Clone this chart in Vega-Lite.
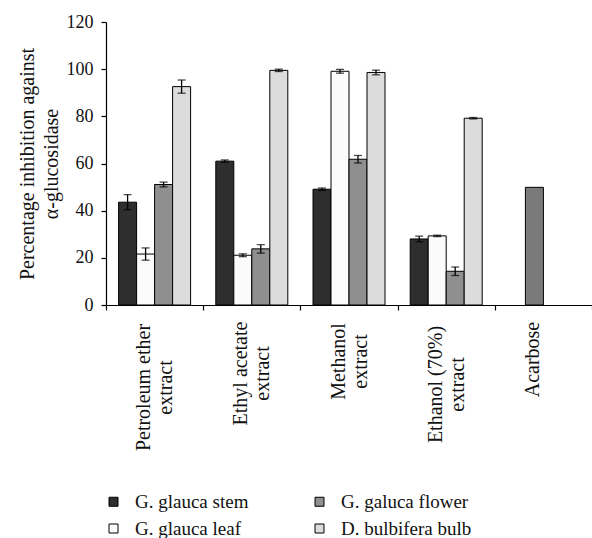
{
  "$schema": "https://vega.github.io/schema/vega-lite/v6.json",
  "autosize": {"type": "none"},
  "width": 486,
  "height": 283,
  "padding": {"left": 106, "top": 22, "right": 0, "bottom": 233},
  "background": "white",
  "config": {
    "view": {"stroke": null},
    "font": "Liberation Serif",
    "axis": {"labelFont": "Liberation Serif", "titleFont": "Liberation Serif", "labelColor": "#111", "titleColor": "#111", "domainColor": "#000", "tickColor": "#000", "grid": false}
  },
  "data": {
    "values": [
      {"group": "Petroleum ether|extract", "series": "G. glauca stem", "slot": "1", "value": 43.6, "lo": 40.4, "hi": 46.8},
      {"group": "Petroleum ether|extract", "series": "G. glauca leaf", "slot": "2", "value": 21.6, "lo": 19.0, "hi": 24.2},
      {"group": "Petroleum ether|extract", "series": "G. galuca flower", "slot": "3", "value": 51.1, "lo": 50.1, "hi": 52.1},
      {"group": "Petroleum ether|extract", "series": "D. bulbifera bulb", "slot": "4", "value": 92.6, "lo": 89.8, "hi": 95.4},
      {"group": "Ethyl acetate|extract", "series": "G. glauca stem", "slot": "1", "value": 61.0, "lo": 60.5, "hi": 61.5},
      {"group": "Ethyl acetate|extract", "series": "G. glauca leaf", "slot": "2", "value": 21.1, "lo": 20.5, "hi": 21.7},
      {"group": "Ethyl acetate|extract", "series": "G. galuca flower", "slot": "3", "value": 23.8, "lo": 22.0, "hi": 25.6},
      {"group": "Ethyl acetate|extract", "series": "D. bulbifera bulb", "slot": "4", "value": 99.5, "lo": 99.0, "hi": 100.0},
      {"group": "Methanol|extract", "series": "G. glauca stem", "slot": "1", "value": 49.1, "lo": 48.6, "hi": 49.6},
      {"group": "Methanol|extract", "series": "G. glauca leaf", "slot": "2", "value": 99.1, "lo": 98.3, "hi": 99.9},
      {"group": "Methanol|extract", "series": "G. galuca flower", "slot": "3", "value": 61.8, "lo": 60.2, "hi": 63.4},
      {"group": "Methanol|extract", "series": "D. bulbifera bulb", "slot": "4", "value": 98.6, "lo": 97.6, "hi": 99.6},
      {"group": "Ethanol (70%)|extract", "series": "G. glauca stem", "slot": "1", "value": 28.0, "lo": 26.8, "hi": 29.2},
      {"group": "Ethanol (70%)|extract", "series": "G. glauca leaf", "slot": "2", "value": 29.3, "lo": 29.0, "hi": 29.6},
      {"group": "Ethanol (70%)|extract", "series": "G. galuca flower", "slot": "3", "value": 14.3, "lo": 12.5, "hi": 16.1},
      {"group": "Ethanol (70%)|extract", "series": "D. bulbifera bulb", "slot": "4", "value": 79.2, "lo": 78.9, "hi": 79.5},
      {"group": "Acarbose", "series": "Acarbose", "slot": "2", "value": 49.9, "lo": null, "hi": null}
    ]
  },
  "encoding": {
    "x": {
      "field": "group", "type": "nominal", "sort": null,
      "scale": {"paddingInner": 0, "paddingOuter": 0},
      "axis": {
        "title": null, "labelAngle": 270, "labelFontSize": 20, "labelAlign": "center",
        "labelPadding": {"condition": [
          {"test": "indexof(datum.label, 'Petroleum') >= 0", "value": 77},
          {"test": "indexof(datum.label, 'Ethyl') >= 0", "value": 63},
          {"test": "indexof(datum.label, 'Methanol') >= 0", "value": 51},
          {"test": "indexof(datum.label, 'Ethanol') >= 0", "value": 74}
        ], "value": 49},
        "labelOffset": -11,
        "labelExpr": "split(datum.label, '|')", "labelLineHeight": 22,
        "tickBand": "extent", "tickSize": 5, "domainWidth": 1.2, "tickWidth": 1.2
      }
    },
    "xOffset": {"field": "slot", "type": "nominal", "sort": ["1", "2", "3", "4"], "scale": {"paddingInner": 0, "paddingOuter": 0.7}}
  },
  "layer": [
    {
      "mark": {"type": "bar", "stroke": "#000", "strokeWidth": 1},
      "encoding": {
        "y": {
          "field": "value", "type": "quantitative",
          "scale": {"domain": [0, 120]},
          "axis": {
            "title": ["Percentage inhibition against", "α-glucosidase"],
            "titleFontSize": 20, "titleFontWeight": "normal", "titleLineHeight": 24, "titlePadding": 5,
            "values": [0, 20, 40, 60, 80, 100, 120], "labelFontSize": 18, "labelPadding": 8,
            "tickSize": 5, "domainWidth": 1.2, "tickWidth": 1.2
          }
        },
        "color": {
          "field": "series", "type": "nominal",
          "scale": {
            "domain": ["G. glauca stem", "G. glauca leaf", "G. galuca flower", "D. bulbifera bulb", "Acarbose"],
            "range": ["#2e2e2e", "#fbfbfb", "#8f8f8f", "#dcdcdc", "#7a7a7a"]
          },
          "legend": {
            "title": null,
            "values": ["G. glauca stem", "G. glauca leaf", "G. galuca flower", "D. bulbifera bulb"],
            "orient": "none", "legendX": -2, "legendY": 470, "columns": 2, "columnPadding": 61, "rowPadding": 7,
            "symbolType": "square", "symbolSize": 81, "symbolStrokeColor": "#000", "symbolStrokeWidth": 1,
            "labelFont": "Liberation Serif", "labelFontSize": 19, "labelColor": "#111", "labelOffset": 12
          }
        }
      }
    },
    {
      "mark": {"type": "rule", "color": "#000", "strokeWidth": 1.3},
      "encoding": {"y": {"field": "lo", "type": "quantitative"}, "y2": {"field": "hi"}}
    },
    {
      "mark": {"type": "tick", "color": "#000", "size": 8, "thickness": 1.3},
      "encoding": {"y": {"field": "lo", "type": "quantitative"}}
    },
    {
      "mark": {"type": "tick", "color": "#000", "size": 8, "thickness": 1.3},
      "encoding": {"y": {"field": "hi", "type": "quantitative"}}
    }
  ]
}
